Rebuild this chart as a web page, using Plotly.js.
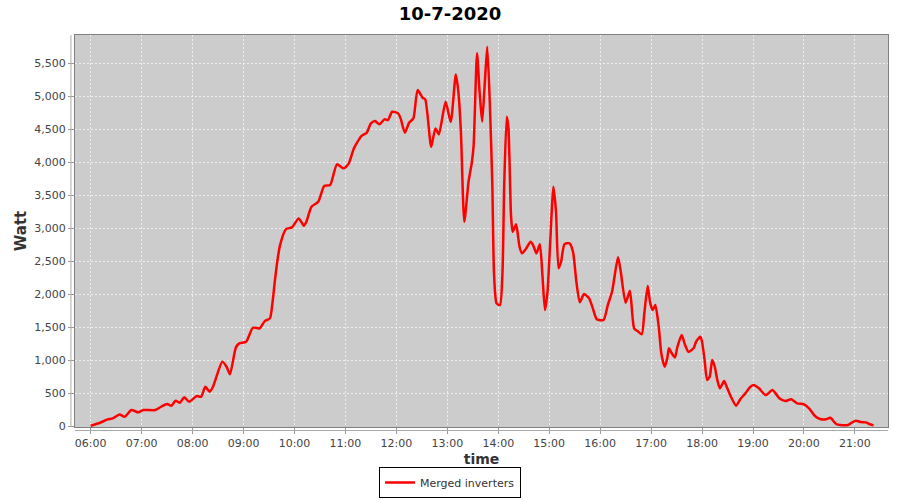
<!DOCTYPE html>
<html>
<head>
<meta charset="utf-8">
<script src="https://cdn.plot.ly/plotly-3.0.1.min.js"></script>
<style>html,body{margin:0;padding:0;background:#fff}#chart{width:900px;height:500px}</style>
</head>
<body>
<div id="chart"></div>
<script>
const day = "2020-07-10";
const times = ["06:00","06:11","06:20","06:26","06:34","06:40","06:48","06:56","07:02","07:16","07:23","07:30","07:35","07:40","07:45","07:50","07:56","08:05","08:10","08:15","08:20","08:24","08:35","08:40","08:44","08:51","08:55","09:03","09:11","09:19","09:25","09:31","09:34","09:37","09:40","09:43","09:50","09:57","10:05","10:11","10:14","10:20","10:28","10:35","10:42","10:50","10:58","11:04","11:10","11:19","11:25","11:30","11:35","11:40","11:46","11:50","11:55","12:02","12:05","12:10","12:15","12:20","12:25","12:31","12:34","12:41","12:46","12:50","12:58","13:04","13:10","13:13","13:16","13:20","13:25","13:29","13:31","13:35","13:38","13:41","13:44","13:47","13:50","13:53","13:55","13:58","14:02","14:05","14:07","14:10","14:12","14:15","14:17","14:21","14:25","14:28","14:33","14:38","14:41","14:45","14:49","14:52","14:55","14:58","15:01","15:05","15:08","15:11","15:14","15:18","15:24","15:28","15:32","15:36","15:41","15:47","15:52","15:56","16:04","16:09","16:14","16:21","16:24","16:30","16:35","16:40","16:44","16:49","16:52","16:56","16:59","17:02","17:05","17:09","17:12","17:16","17:19","17:21","17:24","17:28","17:31","17:36","17:40","17:44","17:50","17:53","17:58","18:00","18:03","18:06","18:09","18:12","18:15","18:18","18:21","18:26","18:29","18:34","18:40","18:45","18:51","18:57","19:01","19:07","19:15","19:23","19:31","19:38","19:45","19:52","20:00","20:06","20:13","20:19","20:26","20:31","20:38","20:43","20:52","20:55","21:01","21:07","21:13","21:17","21:22"];
const watt = [10,55,105,120,180,145,247,212,247,247,297,338,312,388,358,439,373,459,448,600,524,600,979,903,788,1197,1258,1282,1494,1485,1595,1636,1864,2217,2520,2747,2989,3015,3151,3039,3100,3327,3403,3641,3656,3970,3909,3985,4212,4403,4448,4591,4626,4576,4652,4641,4767,4742,4667,4448,4600,4667,5095,4979,4955,4236,4515,4424,4918,4615,5333,5070,4464,3100,3706,4009,4262,5652,5070,4615,5171,5752,4918,3656,2318,1864,1838,2343,3656,4691,4515,3201,2949,3061,2721,2621,2697,2797,2747,2621,2758,2292,1762,2039,2747,3630,3251,2394,2494,2762,2773,2645,2191,1880,2005,1939,1762,1621,1611,1838,2039,2561,2368,1873,2055,1485,1444,1394,1712,2126,1864,1762,1838,1509,1106,903,1030,1182,1115,1045,1206,1383,1232,1130,1182,1282,1358,1282,1005,702,752,1005,903,702,576,686,600,449,312,410,500,600,626,576,474,550,424,383,409,348,333,273,156,111,106,130,35,20,20,45,85,65,60,35,15];
const yTicks = [0,500,1000,1500,2000,2500,3000,3500,4000,4500,5000,5500];
const xTickTimes = ["06:00","07:00","08:00","09:00","10:00","11:00","12:00","13:00","14:00","15:00","16:00","17:00","18:00","19:00","20:00","21:00"];

const F = "DejaVu Sans, Verdana, sans-serif";
const trace = {
  x: times.map(t => day + " " + t),
  y: watt,
  type: "scatter",
  mode: "lines",
  name: "Merged inverters",
  line: {color: "#ff0000", width: 2.5, shape: "spline", smoothing: 0.6}
};
const layout = {
  width: 900, height: 500,
  paper_bgcolor: "#ffffff",
  plot_bgcolor: "#cccccc",
  margin: {l: 75, r: 12, t: 35, b: 73},
  title: {text: "<b>10-7-2020</b>", x: 0.5, xref: "container", y: 0.972, yref: "container", yanchor: "middle",
          font: {family: F, size: 18, color: "#000"}},
  xaxis: {
    type: "date",
    range: [day + " 05:41:30", day + " 21:39"],
    tickvals: xTickTimes.map(t => day + " " + t),
    ticktext: xTickTimes,
    tickfont: {family: F, size: 11, color: "#444"},
    ticks: "outside", ticklen: 6, tickcolor: "#999",
    showgrid: true, gridcolor: "#eeeeee", griddash: "2px,2px", gridwidth: 1,
    showline: true, linecolor: "#808080", linewidth: 1, mirror: true,
    zeroline: false,
    title: {text: "<b>time</b>", font: {family: F, size: 14, color: "#333"}, standoff: 6},
    fixedrange: true
  },
  yaxis: {
    range: [-10, 5930],
    tickvals: yTicks,
    ticktext: yTicks.map(v => v.toLocaleString("en-US")),
    tickfont: {family: F, size: 11, color: "#444"},
    ticks: "outside", ticklen: 6, tickcolor: "#999",
    showgrid: true, gridcolor: "#eeeeee", griddash: "2px,2px", gridwidth: 1,
    showline: true, linecolor: "#808080", linewidth: 1, mirror: true,
    zeroline: false,
    title: {text: "<b>Watt</b>", font: {family: F, size: 15, color: "#333"}, standoff: 4},
    fixedrange: true
  },
  showlegend: true,
  legend: {
    orientation: "h", xref: "container", yref: "container",
    x: 0.5, xanchor: "center", y: 0.004, yanchor: "bottom",
    bordercolor: "#000", borderwidth: 1, bgcolor: "#fff",
    font: {family: F, size: 11, color: "#333"},
    itemwidth: 30
  },
  shapes: [
    {type: "line", xref: "paper", yref: "paper", x0: -0.005, x1: -0.005, y0: 0, y1: 1, line: {color: "#aaaaaa", width: 1}},
    {type: "line", xref: "paper", yref: "paper", x0: 0, x1: 1, y0: -0.009, y1: -0.009, line: {color: "#aaaaaa", width: 1}}
  ]
};
Plotly.newPlot("chart", [trace], layout, {displayModeBar: false, staticPlot: true});
</script>
</body>
</html>
